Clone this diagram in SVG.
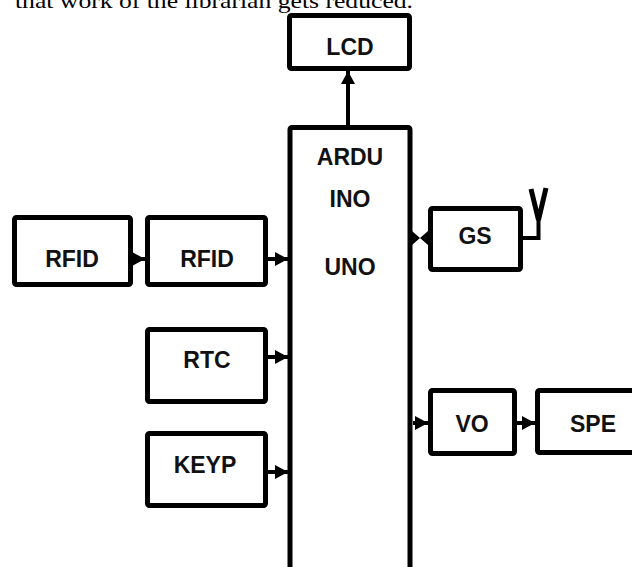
<svg xmlns="http://www.w3.org/2000/svg" width="632" height="567" viewBox="0 0 632 567">
<style>
.box{fill:#fff;stroke:#000;stroke-width:5;stroke-linejoin:round}
.lbl{font-family:"Liberation Sans",Arial,sans-serif;font-weight:bold;font-size:23px;text-anchor:middle;fill:#111}
.ln{stroke:#000;stroke-width:4;fill:none}
.cap{font-family:"Liberation Serif","Times New Roman",serif;font-size:22px;fill:#000}
</style>
<defs>
<marker id="arr" markerUnits="userSpaceOnUse" markerWidth="13" markerHeight="14" refX="13" refY="7" orient="auto">
<path d="M0,0 L13,7 L0,14 z" fill="#000"/>
</marker>
</defs>
<rect width="632" height="567" fill="#fff"/>
<text class="cap" x="15" y="8" textLength="398" lengthAdjust="spacingAndGlyphs">that work of the librarian gets reduced.</text>
<g id="connectors">
<line class="ln" x1="348" y1="125" x2="348" y2="71" marker-end="url(#arr)"/>
<line class="ln" x1="128" y1="259" x2="145" y2="259" marker-end="url(#arr)"/>
<line class="ln" x1="268" y1="259" x2="288" y2="259" marker-end="url(#arr)"/>
<line class="ln" x1="268" y1="357" x2="288" y2="357" marker-end="url(#arr)"/>
<line class="ln" x1="268" y1="472" x2="288" y2="472" marker-end="url(#arr)"/>
<path d="M412,231 L420,238 L412,245 z M428,231 L420,238 L428,245 z" fill="#000"/>
<line class="ln" x1="413" y1="423" x2="428" y2="423" marker-end="url(#arr)"/>
<line class="ln" x1="517" y1="423" x2="535" y2="423" marker-end="url(#arr)"/>
</g>
<g id="lcd"><rect class="box" x="289.5" y="15.5" width="120" height="53" rx="2"/><text class="lbl" x="350" y="55">LCD</text></g>
<g id="arduino"><rect class="box" x="290" y="127.5" width="120" height="460" rx="2"/>
<text class="lbl" x="350" y="165">ARDU</text><text class="lbl" x="350" y="207">INO</text><text class="lbl" x="350" y="275">UNO</text></g>
<g id="rfid1"><rect class="box" x="14.5" y="217.5" width="116" height="67" rx="2"/><text class="lbl" x="72" y="267">RFID</text></g>
<g id="rfid2"><rect class="box" x="147.5" y="217.5" width="118" height="67" rx="2"/><text class="lbl" x="207" y="267">RFID</text></g>
<g id="rtc"><rect class="box" x="147.5" y="329.5" width="118" height="72" rx="2"/><text class="lbl" x="207" y="368">RTC</text></g>
<g id="keyp"><rect class="box" x="147.5" y="433.5" width="118" height="72" rx="2"/><text class="lbl" x="205" y="473">KEYP</text></g>
<g id="gs"><rect class="box" x="430.5" y="208.5" width="90" height="61" rx="2"/><text class="lbl" x="475" y="244">GS</text>
<path d="M523,238 L538.5,238 L538.5,218" class="ln"/>
<path d="M531,189 L538.5,220 L546,188" stroke="#000" stroke-width="5" fill="none"/></g>
<g id="vo"><rect class="box" x="430.5" y="390.5" width="84" height="63" rx="2"/><text class="lbl" x="472" y="432">VO</text></g>
<g id="spe"><rect class="box" x="537.5" y="390.5" width="120" height="62" rx="2"/><text class="lbl" x="593" y="432">SPE</text></g>
</svg>
